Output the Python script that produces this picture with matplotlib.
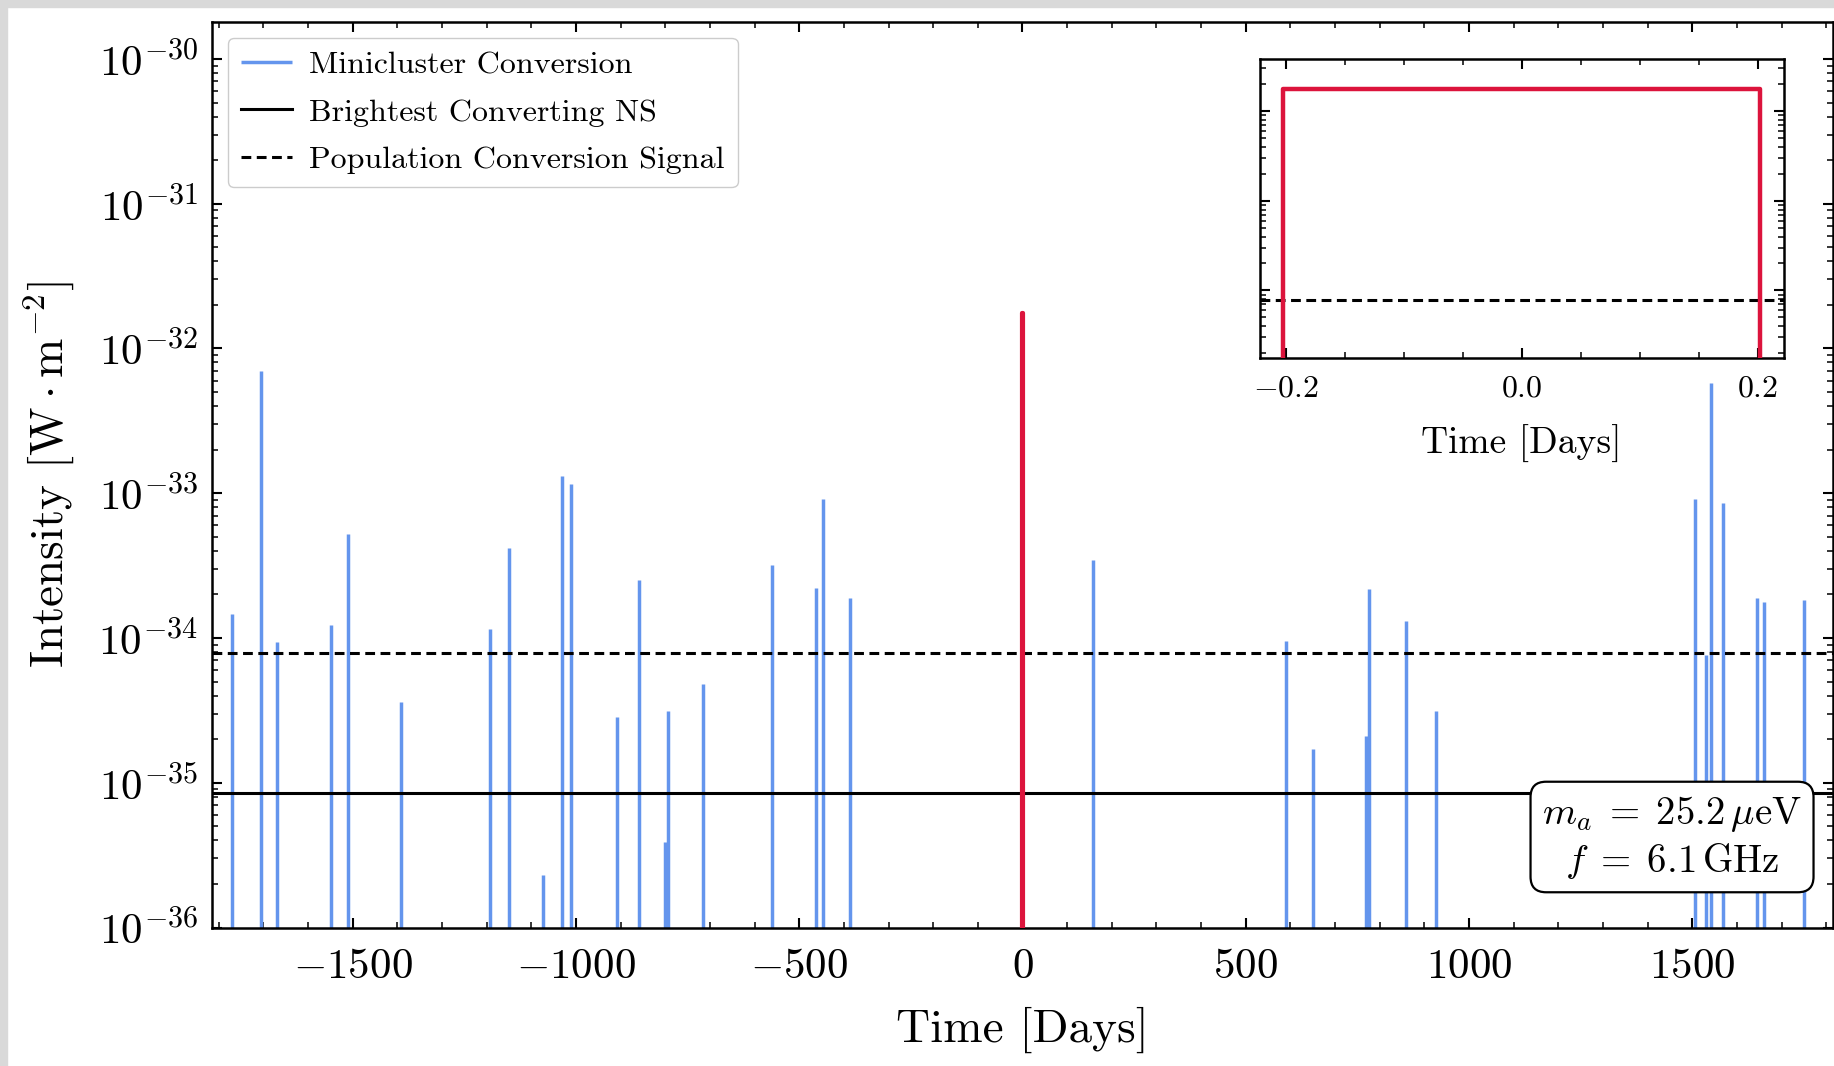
"""
Light curve of axion minicluster conversion events, with a zoom on the
brightest converting neutron star crossing.
"""

import numpy as np
import matplotlib.pyplot as plt
from matplotlib.patches import Rectangle
from matplotlib.ticker import MultipleLocator, LogLocator, NullFormatter

plt.rcParams["font.family"] = "serif"
plt.rcParams["font.serif"] = ["cmr10"]
plt.rcParams["mathtext.fontset"] = "cm"
plt.rcParams["axes.formatter.use_mathtext"] = True

# minicluster encounters: time [days] and peak intensity [W m^-2]
mc_days = [-1770, -1706, -1670, -1549, -1511, -1392, -1192, -1150, -1073,
           -1031, -1011, -907, -858, -801, -794, -715, -562, -463, -447,
           -387, 157, 591, 651, 769, 777, 859, 925, 1507, 1530, 1541, 1569,
           1644, 1661, 1751]
mc_peak = [1.47e-34, 7.0e-33, 9.4e-35, 1.23e-34, 5.2e-34, 3.6e-35, 1.15e-34,
           4.2e-34, 2.3e-36, 1.32e-33, 1.16e-33, 2.85e-35, 2.5e-34, 3.9e-36,
           3.15e-35, 4.8e-35, 3.2e-34, 2.2e-34, 9.1e-34, 1.88e-34, 3.48e-34,
           9.6e-35, 1.7e-35, 2.1e-35, 2.18e-34, 1.32e-34, 3.15e-35, 9.1e-34,
           7.6e-35, 5.8e-33, 8.6e-34, 1.88e-34, 1.77e-34, 1.83e-34]

# brightest event (crossing centred on t = 0)
event_days = [-0.202, -0.202, 0.202, 0.202]
event_intensity = [1e-40, 1.75e-32, 1.75e-32, 1e-40]

brightest_ns = 8.5e-36
population_signal = 7.87e-35

BLUE = "cornflowerblue"
RED = "crimson"
FLOOR = 1e-40
DASH = (0, (3.2, 1.8))


def style_axis(ax, width=1.8):
    for sp in ax.spines.values():
        sp.set_linewidth(width)
    ax.tick_params(which="both", direction="in", top=True, right=True)
    ax.tick_params(which="major", length=7, width=1.5)
    ax.tick_params(which="minor", length=4, width=1.1)


fig = plt.figure(figsize=(18.34, 10.66), dpi=100)
ax = fig.add_axes([212 / 1834, 1 - 927.5 / 1066, 1621 / 1834, 905.5 / 1066])

ax.vlines(mc_days, FLOOR, mc_peak, color=BLUE, lw=2.5,
          label="Minicluster Conversion", zorder=2)
ax.axhline(brightest_ns, color="black", lw=2.2, label="Brightest Converting NS", zorder=3)
ax.axhline(population_signal, color="black", lw=2.2, ls=DASH,
           label="Population Conversion Signal", zorder=3)
ax.plot(event_days, event_intensity, color=RED, lw=3, zorder=4)

ax.set_yscale("log")
ax.set_xlim(-1815, 1815)
ax.set_ylim(1e-36, 1.8e-30)
ax.xaxis.set_major_locator(MultipleLocator(500))
ax.xaxis.set_minor_locator(MultipleLocator(100))
ax.yaxis.set_major_locator(LogLocator(base=10, numticks=20))
ax.yaxis.set_minor_locator(LogLocator(base=10, subs=np.arange(2, 10), numticks=20))
ax.yaxis.set_minor_formatter(NullFormatter())
style_axis(ax)
ax.tick_params(which="major", labelsize=31, pad=10)
ax.tick_params(axis="x", which="major", pad=15)

ax.set_xlabel("Time [Days]", fontsize=34, labelpad=15)
ax.set_ylabel(r"Intensity [$\mathrm{W} \cdot \mathrm{m}^{-2}$]", fontsize=34, labelpad=16)

ax.legend(loc="upper left", fontsize=23, handlelength=1.6, handletextpad=0.55,
          labelspacing=0.6, borderaxespad=0.5, framealpha=1.0, edgecolor="0.8")

ax.text(0.9007, 0.0994,
        r"$m_a \;=\; 25.2\,\mu\mathrm{eV}$" + "\n" + r"$f \;=\; 6.1\,\mathrm{GHz}$",
        transform=ax.transAxes, ha="center", va="center", fontsize=28,
        multialignment="center", zorder=10,
        bbox=dict(boxstyle="round,pad=0.3,rounding_size=0.4", fc="white",
                  ec="black", lw=1.6))

# inset: zoom on the brightest crossing
axin = fig.add_axes([1259.7 / 1834, 1 - 358.3 / 1066, 523.8 / 1834, 299 / 1066])
axin.plot(event_days, event_intensity, color=RED, lw=3.2, zorder=4)
axin.axhline(population_signal, color="black", lw=2.2, ls=DASH, zorder=3)
axin.set_yscale("log")
axin.set_xlim(-0.222, 0.222)
axin.set_ylim(1.75e-35, 3.8e-32)
axin.xaxis.set_major_locator(MultipleLocator(0.2))
axin.xaxis.set_minor_locator(MultipleLocator(0.05))
axin.yaxis.set_major_locator(LogLocator(base=10, numticks=20))
axin.yaxis.set_minor_locator(LogLocator(base=10, subs=np.arange(2, 10), numticks=20))
axin.yaxis.set_major_formatter(NullFormatter())
axin.yaxis.set_minor_formatter(NullFormatter())
axin.xaxis.set_major_formatter(plt.FuncFormatter(
    lambda v, p: r"$%s$" % (f"{v:.1f}" if abs(v) > 1e-9 else "0.0")))
style_axis(axin)
axin.tick_params(which="major", labelsize=23, pad=12)
axin.set_xlabel("Time [Days]", fontsize=27, labelpad=16)

# screenshot border
fig.patches.append(Rectangle((0, 1 - 7 / 1066), 1, 7 / 1066,
                             transform=fig.transFigure, color="#d9d9d9", zorder=-1))
fig.patches.append(Rectangle((0, 0), 7 / 1834, 1,
                             transform=fig.transFigure, color="#d9d9d9", zorder=-1))

fig.savefig("out.png", dpi=100)
